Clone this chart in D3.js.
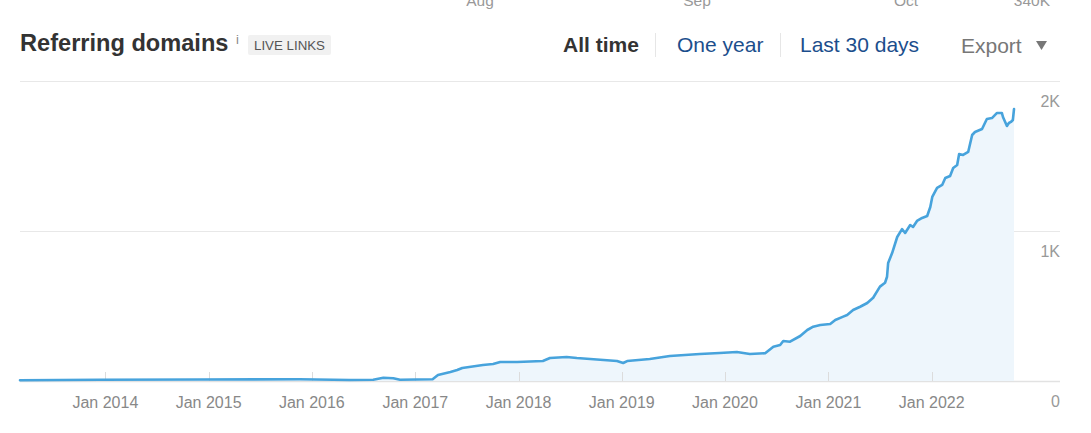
<!DOCTYPE html>
<html>
<head>
<meta charset="utf-8">
<script src="https://cdn.jsdelivr.net/npm/d3@7/dist/d3.min.js"></script>
<style>
  html, body { margin: 0; padding: 0; background: #fff; }
  svg { display: block; font-family: "Liberation Sans", Arial, sans-serif; }
</style>
</head>
<body>
<svg id="chart" width="1091" height="433"></svg>
<script>
// ---- data ----
const dates = ["2013-03-05","2013-12-13","2014-12-01","2015-11-18","2016-05-15","2016-08-05","2016-09-10","2016-10-15","2016-11-08","2017-03-03",
"2017-03-22","2017-05-05","2017-05-29","2017-06-16","2017-08-28","2017-10-03","2017-10-28","2017-12-27","2018-03-28","2018-04-22",
"2018-06-20","2018-07-26","2018-12-15","2019-01-06","2019-01-20","2019-04-10","2019-06-20","2019-10-04","2019-12-13","2020-02-12",
"2020-03-29","2020-05-22","2020-06-20","2020-07-14","2020-07-25","2020-08-18","2020-09-23","2020-10-18","2020-11-08","2020-12-03",
"2021-01-07","2021-01-25","2021-02-22","2021-03-08","2021-03-29","2021-04-23","2021-05-18","2021-06-08","2021-07-02","2021-07-20",
"2021-07-27","2021-07-31","2021-08-14","2021-09-01","2021-09-18","2021-09-29","2021-10-17","2021-10-27","2021-11-10","2021-11-28",
"2021-12-16","2021-12-27","2022-01-03","2022-01-20","2022-02-07","2022-02-18","2022-03-07","2022-03-18","2022-04-01","2022-04-08",
"2022-04-22","2022-05-10","2022-05-24","2022-06-03","2022-06-28","2022-07-15","2022-08-02","2022-08-20","2022-09-06","2022-09-10",
"2022-09-24","2022-10-01","2022-10-08","2022-10-15","2022-10-19"];
const domains = [5,8,10,12,7,8,22,18,8,12,
40,60,73,87,107,113,127,127,133,153,
160,153,133,120,133,147,167,180,187,193,
180,185,229,240,267,262,300,340,362,373,
380,407,429,440,473,495,520,555,629,655,
695,787,853,960,1013,987,1040,1027,1067,1087,
1100,1160,1227,1287,1307,1353,1367,1420,1440,1513,
1507,1527,1640,1660,1680,1747,1753,1787,1787,1760,
1700,1720,1727,1740,1813];
const yTicks = [0, 1000, 2000];
const yTickLabels = ["0", "1K", "2K"];
const xTickYears = [2014, 2015, 2016, 2017, 2018, 2019, 2020, 2021, 2022];
const title = "Referring domains";
const badge = "LIVE LINKS";
const periodTabs = ["All time", "One year", "Last 30 days"];
const topCutLabels = ["Aug", "Sep", "Oct", "340K"];

const parse = d3.timeParse("%Y-%m-%d");
const data = dates.map((d, i) => ({ date: parse(d), value: domains[i] }));

const svg = d3.select("#chart");

// ---- scales ----
const x = d3.scaleTime()
  .domain([data[0].date, data[data.length - 1].date])
  .range([20, 1014]);
const y = d3.scaleLinear().domain([0, 2000]).range([381, 81]);
const gridLeft = 20, gridRight = 1060;

// ---- remnants of the chart above (cut off at the top, as in the reference) ----
const topX = [480, 697, 906];
svg.append("g").selectAll("text").data(topCutLabels).join("text")
  .attr("x", (d, i) => i < 3 ? topX[i] : 1050)
  .attr("y", 6)
  .attr("text-anchor", (d, i) => i < 3 ? "middle" : "end")
  .attr("font-size", 15.5).attr("fill", "#999")
  .text(d => d);

// ---- header ----
svg.append("text").attr("x", 20).attr("y", 51)
  .attr("font-size", 23.6).attr("font-weight", "bold").attr("fill", "#333")
  .text(title);
svg.append("text").attr("x", 236).attr("y", 44)
  .attr("font-size", 13).attr("fill", "#888").text("i");
svg.append("rect").attr("x", 248).attr("y", 35).attr("width", 83).attr("height", 20)
  .attr("rx", 2).attr("fill", "#f1f1f1");
svg.append("text").attr("x", 289.5).attr("y", 50).attr("text-anchor", "middle")
  .attr("font-size", 13.3).attr("fill", "#555").text(badge);

const tabX = [563, 677, 800];
const tabColor = ["#333", "#1c4e8c", "#1c4e8c"];
periodTabs.forEach((t, i) => {
  svg.append("text").attr("x", tabX[i]).attr("y", 52)
    .attr("font-size", 21).attr("font-weight", i === 0 ? "bold" : "normal")
    .attr("fill", tabColor[i]).text(t);
});
[655, 780].forEach(sx => {
  svg.append("line").attr("x1", sx + 0.5).attr("x2", sx + 0.5).attr("y1", 33).attr("y2", 57)
    .attr("stroke", "#e6e6e6").attr("stroke-width", 1);
});
svg.append("text").attr("x", 961).attr("y", 53)
  .attr("font-size", 21).attr("fill", "#777").text("Export");
svg.append("path").attr("d", "M1036,41 L1047,41 L1041.5,50 Z").attr("fill", "#777");

// ---- gridlines ----
svg.append("g").selectAll("line").data(yTicks).join("line")
  .attr("x1", gridLeft).attr("x2", gridRight)
  .attr("y1", d => Math.round(y(d)) + 0.5).attr("y2", d => Math.round(y(d)) + 0.5)
  .attr("stroke", d => d === 0 ? "#e2e2e2" : "#e8e8e8").attr("stroke-width", d => d === 0 ? 1.5 : 1);

// ---- area + line ----
const area = d3.area().x(d => x(d.date)).y0(y(0)).y1(d => y(d.value)).curve(d3.curveLinear);
const line = d3.line().x(d => x(d.date)).y(d => y(d.value)).curve(d3.curveLinear);

svg.append("path").datum(data).attr("d", area).attr("fill", "#eef6fc");

// ---- x ticks (vertical marks) ----
const xTickDates = xTickYears.map(yr => new Date(yr, 0, 1));
svg.append("g").selectAll("line").data(xTickDates).join("line")
  .attr("x1", d => Math.round(x(d)) + 0.5).attr("x2", d => Math.round(x(d)) + 0.5)
  .attr("y1", 372).attr("y2", 381)
  .attr("stroke", "#dcdcdc").attr("stroke-width", 1);

svg.append("path").datum(data).attr("d", line)
  .attr("fill", "none").attr("stroke", "#47a3dc").attr("stroke-width", 2.6)
  .attr("stroke-linejoin", "round").attr("stroke-linecap", "round");

// ---- x labels ----
svg.append("g").selectAll("text").data(xTickDates).join("text")
  .attr("x", d => x(d)).attr("y", 408).attr("text-anchor", "middle")
  .attr("font-size", 16).attr("fill", "#888")
  .text(d => "Jan " + d.getFullYear());

// ---- y labels (right, under gridlines) ----
svg.append("g").selectAll("text").data(yTicks).join("text")
  .attr("x", 1060).attr("y", d => y(d) + 26).attr("text-anchor", "end")
  .attr("font-size", 16).attr("fill", "#999")
  .text((d, i) => yTickLabels[i]);
</script>
</body>
</html>
